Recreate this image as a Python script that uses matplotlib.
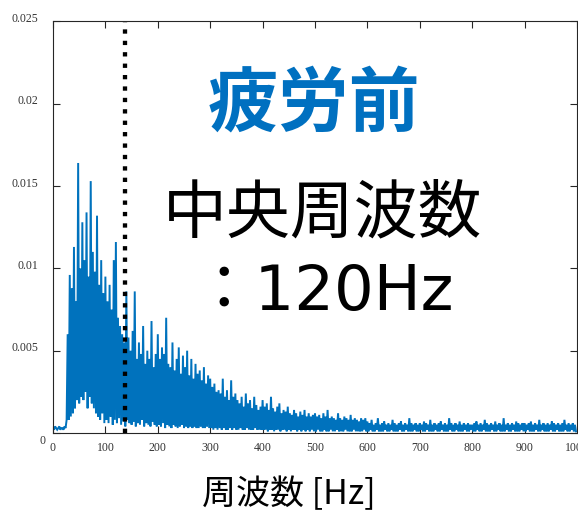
import numpy as np
import matplotlib
matplotlib.use("Agg")
import matplotlib.pyplot as plt
import matplotlib.transforms as mtransforms

# ---- data: amplitude in units of 1e-4, one value every 2 Hz ----
# 0-98 Hz written out directly (flat start, rise at ~27 Hz, then peak/trough pairs)
band_000 = [3, 2, 4, 3, 2, 3, 4, 2, 3, 3, 2, 4, 3, 8,
            60, 8, 96, 10, 88, 12, 113, 15, 80, 20, 164, 18, 100, 22, 128, 20,
            105, 25, 134, 15, 95, 22, 153, 18, 110, 15, 98, 12, 132, 10, 90, 8,
            105, 12, 85, 6]
# 100-998 Hz: local peaks (every 4 Hz) and the troughs between them
peaks_100 = [95, 80, 90, 75, 105, 116, 70, 65, 60, 55, 86, 58, 50, 62, 86, 45, 55, 48, 65, 42,
             50, 45, 68, 40, 48]
troughs_100 = [8, 6, 10, 5, 8, 6, 9, 5, 7, 4, 8, 6, 5, 7, 4, 6, 5, 8, 4, 6, 5, 4, 7, 5, 4]
peaks_200 = [60, 45, 52, 48, 70, 42, 40, 55, 38, 45, 52, 36, 47, 40, 50, 35, 45, 33, 42, 36,
             38, 32, 40, 30, 35]
troughs_200 = [5, 4, 6, 3, 5, 4, 3, 5, 4, 3, 4, 5, 3, 4, 3, 4, 3, 4, 3, 3, 4, 3, 3, 4, 3]
peaks_300 = [33, 28, 30, 25, 26, 24, 33, 22, 26, 20, 32, 22, 24, 20, 18, 22, 16, 24, 18, 20,
             15, 22, 17, 14, 16]
troughs_300 = [3, 2, 3, 2, 3, 2, 3, 2, 2, 3, 2, 3, 2, 2, 3, 2, 2, 3, 2, 2, 2, 3, 2, 2, 2]
peaks_400 = [20, 16, 18, 14, 22, 15, 13, 16, 18, 12, 14, 13, 16, 12, 11, 14, 12, 10, 13, 11,
             14, 10, 12, 10, 11]
troughs_400 = [2, 2, 1, 2, 2, 1, 2, 2, 1, 2, 2, 1, 2, 1, 2, 2, 1, 2, 1, 2, 1, 2, 1, 2, 1]
peaks_500 = [12, 10, 11, 9, 12, 10, 14, 9, 10, 9, 8, 12, 9, 8, 10, 9, 8, 11, 8, 9,
             8, 7, 9, 8, 9]
troughs_500 = [1, 2, 1, 1, 2, 1, 1, 2, 1, 1, 2, 1, 1, 1, 2, 1, 1, 1, 2, 1, 1, 1, 1, 2, 1]
peaks_600 = [7, 6, 8, 5, 6, 9, 5, 6, 7, 5, 6, 5, 8, 6, 5, 6, 7, 5, 6, 5, 9, 6, 5, 6, 5]
troughs_600 = [1, 2, 1, 1, 2, 1, 1, 1, 2, 1, 1, 2, 1, 1, 1, 2, 1, 1, 2, 1, 1, 1, 2, 1, 1]
peaks_700 = [6, 5, 7, 6, 5, 8, 5, 6, 5, 6, 7, 5, 6, 5, 9, 6, 5, 6, 5, 7, 5, 6, 5, 6, 5]
troughs_700 = [2, 1, 1, 2, 1, 1, 1, 2, 1, 1, 2, 1, 1, 1, 2, 1, 1, 2, 1, 1, 1, 2, 1, 1, 2]
peaks_800 = [5, 6, 7, 5, 6, 5, 8, 6, 5, 6, 5, 7, 5, 6, 5, 9, 5, 6, 5, 6, 5, 7, 6, 5, 6]
troughs_800 = [1, 1, 2, 1, 1, 2, 1, 1, 1, 2, 1, 1, 2, 1, 1, 1, 2, 1, 1, 2, 1, 1, 1, 2, 1]
peaks_900 = [6, 5, 6, 7, 5, 6, 5, 8, 5, 6, 5, 6, 5, 7, 6, 5, 6, 5, 6, 8, 5, 6, 5, 6, 5]
troughs_900 = [1, 2, 1, 1, 1, 2, 1, 1, 2, 1, 1, 1, 2, 1, 1, 2, 1, 1, 1, 2, 1, 1, 2, 1, 1]

freq_step = 2
median_freq_line = 137
x_ticks = [0, 100, 200, 300, 400, 500, 600, 700, 800, 900, 1000]
x_tick_labels = ["0", "100", "200", "300", "400", "500", "600", "700", "800", "900", "1000"]
y_ticks = [0, 0.005, 0.01, 0.015, 0.02, 0.025]
y_tick_labels = ["0", "0.005", "0.01", "0.015", "0.02", "0.025"]
title_text = "疲労前"
info_line1 = "中央周波数"
info_line2 = "：120Hz"
x_label = "周波数 [Hz]"

pairs = [(peaks_100, troughs_100), (peaks_200, troughs_200), (peaks_300, troughs_300),
         (peaks_400, troughs_400), (peaks_500, troughs_500), (peaks_600, troughs_600),
         (peaks_700, troughs_700), (peaks_800, troughs_800), (peaks_900, troughs_900)]
amp_units = list(band_000)
for pk, tr in pairs:
    amp_units += list(np.column_stack([pk, tr]).ravel())
amplitude = np.array(amp_units, dtype=float) * 1e-4
frequency = np.arange(len(amplitude)) * freq_step

# ---- figure ----
W, H = 578, 513
fig = plt.figure(figsize=(W / 100, H / 100), dpi=100)
ax = fig.add_axes([53 / W, 80 / H, 524 / W, 411.6 / H])

ax.plot(frequency, amplitude, color="#0072BD", lw=1.4, solid_joinstyle="miter")
ax.axvline(median_freq_line, color="black", ls=":", lw=3.1)

ax.set_xlim(0, 1000)
ax.set_ylim(0, 0.025)
ax.set_xticks(x_ticks)
ax.set_xticklabels(x_tick_labels)
ax.set_yticks(y_ticks)
ax.set_yticklabels(y_tick_labels)

for s in ax.spines.values():
    s.set_color("#262626")
    s.set_linewidth(0.8)
ax.tick_params(direction="in", length=5, width=0.8, color="#262626",
               top=True, right=True, labelsize=8.5, labelcolor="#333333")
ax.tick_params(axis="y", pad=10.5)
ax.tick_params(axis="x", pad=6.5)
for lab in ax.get_xticklabels() + ax.get_yticklabels():
    lab.set_fontfamily(["Liberation Serif", "DejaVu Serif"])

# MATLAB-like label offsets
ylabs = ax.get_yticklabels()
for i, lab in enumerate(ylabs):
    if i == 0:
        off = mtransforms.ScaledTranslation(7 / 100, -6 / 100, fig.dpi_scale_trans)
    else:
        off = mtransforms.ScaledTranslation(0, 4 / 100, fig.dpi_scale_trans)
    lab.set_transform(lab.get_transform() + off)

cjk = ["Noto Sans CJK JP", "DejaVu Sans"]
fig.text(314 / W, 1 - 126 / H, title_text, color="#0070C0", fontsize=51,
         fontweight="bold", family=cjk, ha="center", va="baseline")
fig.text(323 / W, 1 - 232 / H, info_line1, color="black", fontsize=46,
         family=cjk, ha="center", va="baseline")
fig.text(323 / W, 1 - 310 / H, info_line2, color="black", fontsize=45,
         family=["DejaVu Sans", "Noto Sans CJK JP"], ha="center", va="baseline")
fig.text(289 / W, 1 - 495 / H, x_label, color="black", fontsize=24.5,
         family=cjk, ha="center", va="center")

fig.savefig("out.png", dpi=100)
